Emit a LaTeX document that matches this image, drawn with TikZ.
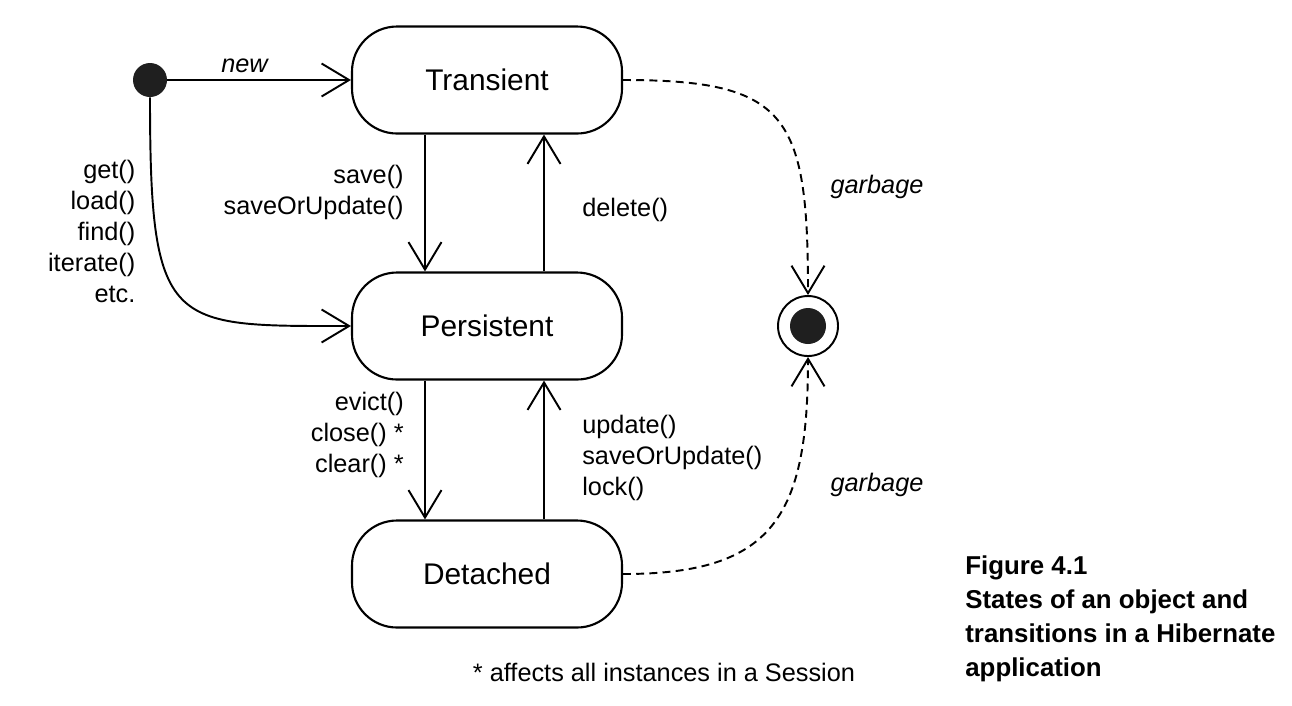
\documentclass[tikz,border=0pt]{standalone}
\usepackage{fontspec}
\setmainfont{Liberation Sans}
\usetikzlibrary{arrows.meta}

\begin{document}
\begin{tikzpicture}[
    state/.style={draw,line width=1.2pt,rounded corners=0.9cm,
        minimum width=5.4cm,minimum height=2.14cm,
        font={\fontsize{17}{20}\selectfont}},
    trans/.style={line width=1.1pt,
        -{Straight Barb[length=0.55cm,width=0.66cm,line width=1.1pt]}},
    garbage/.style={trans,dash pattern=on 4.5pt off 3pt},
    methods/.style={font={\fontsize{14.4}{17.6}\selectfont},align=right},
    ]
    \useasboundingbox (0,0) rectangle (25.84,-14.1);
    % States
    \node[state] (transient)  at (9.74,-1.6)   {Transient};
    \node[state] (persistent) at (9.74,-6.52)  {Persistent};
    \node[state] (detached)   at (9.74,-11.48) {Detached};
    % Initial and final state
    \node[circle,fill=black!88,minimum size=0.68cm,inner sep=0] (init) at (3,-1.6) {};
    \node[circle,draw,line width=1.1pt,minimum size=1.2cm,inner sep=0] (final) at (16.16,-6.52) {};
    \node[circle,fill=black!88,minimum size=0.72cm,inner sep=0] (finaldot) at (final) {};

    % new
    \draw[trans] (init) -- node[methods,above,pos=0.42,font={\fontsize{14.4}{17.6}\selectfont\itshape}] {new} (transient);
    % get(), load() ...
    \draw[trans] (init.south) .. controls +(0,-4.66) and +(-3.64,0) .. (persistent.west);
    \node[methods,anchor=east] (getlabel) at (2.83,-4.63) {get()\\load()\\find()\\iterate()\\etc.};

    % Transient <-> Persistent
    \draw[trans] ([xshift=-1.24cm]transient.south) -- node[methods,left,xshift=-0.29cm,pos=0.42]
        {save()\\saveOrUpdate()} ([xshift=-1.24cm]persistent.north);
    \draw[trans] ([xshift=1.14cm]persistent.north) -- node[methods,right,xshift=0.63cm,pos=0.45]
        {delete()} ([xshift=1.14cm]transient.south);
    % Persistent <-> Detached
    \draw[trans] ([xshift=-1.24cm]persistent.south) -- node[methods,left,xshift=-0.29cm,pos=0.39]
        {evict()\\close() *\\clear() *} ([xshift=-1.24cm]detached.north);
    \draw[trans] ([xshift=1.14cm]detached.north) -- node[methods,align=left,right,xshift=0.63cm,pos=0.44]
        {update()\\saveOrUpdate()\\lock()} ([xshift=1.14cm]persistent.south);

    % Garbage
    \draw[garbage] (transient.east) .. controls +(3.3,0) and +(0,3.6) .. (final.north);
    \draw[garbage] (detached.east) .. controls +(3.0,0) and +(0,-3.2) .. (final.south);
    \path[methods,font={\fontsize{14.4}{17.6}\selectfont\itshape}]
        (17.54,-3.74) node (garbtop) {garbage}
        (17.54,-9.7)  node (garbbottom) {garbage};

    % Footnote and caption
    \node[methods] (footnote) at (13.28,-13.44) {* affects all instances in a Session};
    \node[anchor=north west,align=left,inner sep=0,
        font={\bfseries\fontsize{14.7}{19.4}\selectfont}] (caption) at (19.3,-11.1)
        {Figure 4.1\\States of an object and\\transitions in a Hibernate\\application};
\end{tikzpicture}
\end{document}
